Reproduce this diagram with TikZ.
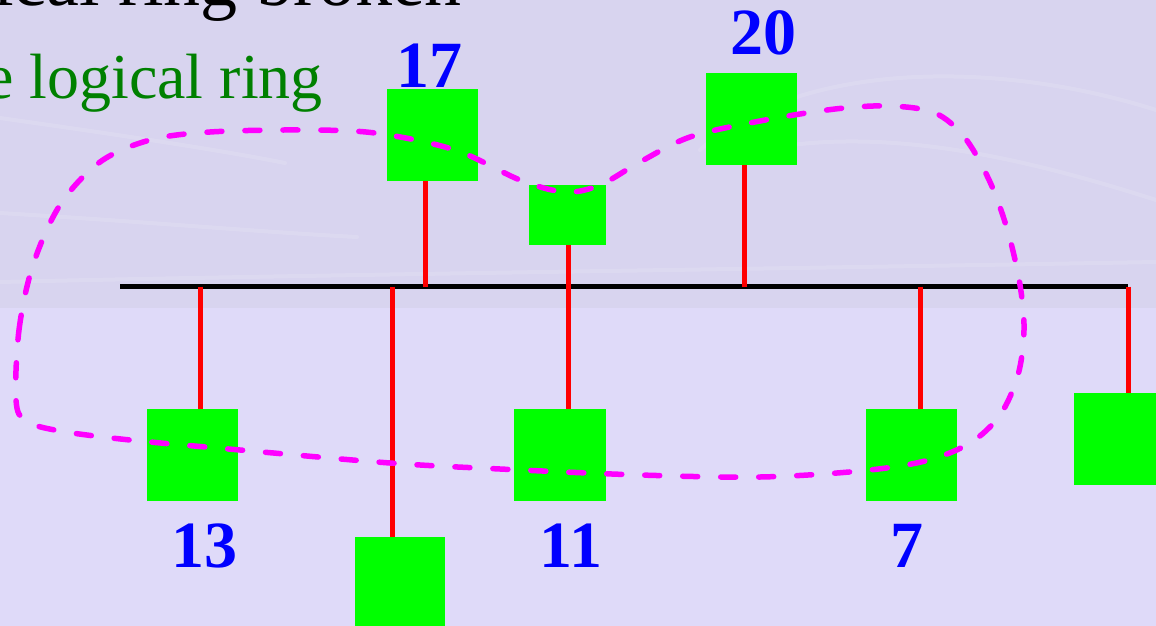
\documentclass[tikz,border=0pt]{standalone}
\usepackage{fontspec}
\setmainfont{Liberation Serif}
\definecolor{bgLow}{RGB}{223,218,249}
\definecolor{bgUp}{RGB}{216,212,239}
\definecolor{boxgreen}{RGB}{0,255,0}
\definecolor{txtgreen}{RGB}{0,128,0}
\definecolor{ringmag}{RGB}{255,0,255}
\begin{document}
\begin{tikzpicture}[x=1pt,y=-1pt,
  station/.style={fill=boxgreen,draw=none,inner sep=0pt,minimum width=91pt,minimum height=92pt},
  smallstation/.style={fill=boxgreen,draw=none,inner sep=0pt,minimum width=77pt,minimum height=60pt},
  stem/.style={draw=red,line width=5pt},
  bus/.style={draw=black,line width=5pt},
  numlabel/.style={text=blue,font=\fontsize{66}{70}\selectfont\bfseries,inner sep=0pt,anchor=base},
  ringline/.style={draw=ringmag,line width=5.5pt,line cap=round,dash pattern=on 15pt off 23pt},
  streak/.style={draw=white,opacity=0.12,line width=4pt,line cap=round}]
\useasboundingbox (0,0) rectangle (1156,626);
\clip (0,0) rectangle (1156,626);
% background
\fill[bgLow] (0,0) rectangle (1156,626);
\fill[bgUp] (0,0) rectangle (1156,308);
\draw[streak] (0,118) .. controls (120,135) and (220,150) .. (285,163);
\draw[streak] (0,213) .. controls (150,222) and (260,232) .. (357,237);
\draw[streak] (700,150) .. controls (800,60) and (1000,60) .. (1156,110);
\draw[streak] (720,160) .. controls (850,120) and (1000,150) .. (1156,200);
\draw[streak] (0,282) .. controls (300,275) and (700,270) .. (1156,262);
% texts
\node[anchor=base east,inner sep=0pt,font=\fontsize{74}{80}\selectfont] (title) at (462,6) {Logical ring broken};
\node[anchor=base east,inner sep=0pt,text=txtgreen,font=\fontsize{64}{70}\selectfont] (sub) at (323,99) {e logical ring};
% bus
\coordinate (busL) at (120,286.5);
\coordinate (busR) at (1128,286.5);
\draw[bus] (busL) -- (busR);
% stations
\node[station] (s17) at (432.5,135) {};
\node[smallstation] (sS) at (567.5,215) {};
\node[station] (s20) at (751.5,119) {};
\node[station] (s13) at (192.5,455) {};
\node[station,minimum width=90pt] (sL) at (400,583) {};
\node[station,minimum width=92pt] (s11) at (560,455) {};
\node[station] (s7) at (911.5,455) {};
\node[station,minimum width=92pt] (sR) at (1120,439) {};
% taps on bus
\coordinate (t13) at (200,286.5);
\coordinate (tL) at (392,286.5);
\coordinate (t17) at (425,286.5);
\coordinate (t20) at (744,286.5);
\coordinate (t7) at (920,286.5);
\coordinate (tR) at (1128,286.5);
% stems
\draw[stem] (t13) -- (t13 |- s13.north);
\draw[stem] (tL) -- (tL |- sL.north);
\draw[stem] (t17 |- s17.south) -- (t17);
\draw[stem] ([xshift=0.5pt]sS.south) -- ([xshift=0.5pt]sS.south |- s11.north);
\draw[stem] (t20 |- s20.south) -- (t20);
\draw[stem] (t7) -- (t7 |- s7.north);
\draw[stem] (tR) -- (tR |- sR.north);
% labels
\node[numlabel] (l17) at (429,87) {17};
\node[numlabel] (l20) at (763,55) {20};
\node[numlabel] (l13) at (204,567) {13};
\node[numlabel] (l11) at (571,567) {11};
\node[numlabel] (l7) at (907,567) {7};
% logical ring
\draw[ringline] plot[smooth cycle,tension=0.55] coordinates {
 (16,400) (19,330) (33,265) (60,205) (100,162) (150,140) (210,132) (300,130) (375,133)
 (455,150) (520,180) (565,192) (600,185) (640,162) (690,137) (760,121) (835,109)
 (890,106) (935,113) (965,138) (990,182) (1008,232) (1020,285) (1024,330) (1018,375)
 (1000,415) (970,443) (925,461) (860,471) (760,477) (640,475) (500,469) (390,463)
 (240,450) (130,440) (60,431) (26,421)};
\end{tikzpicture}
\end{document}
